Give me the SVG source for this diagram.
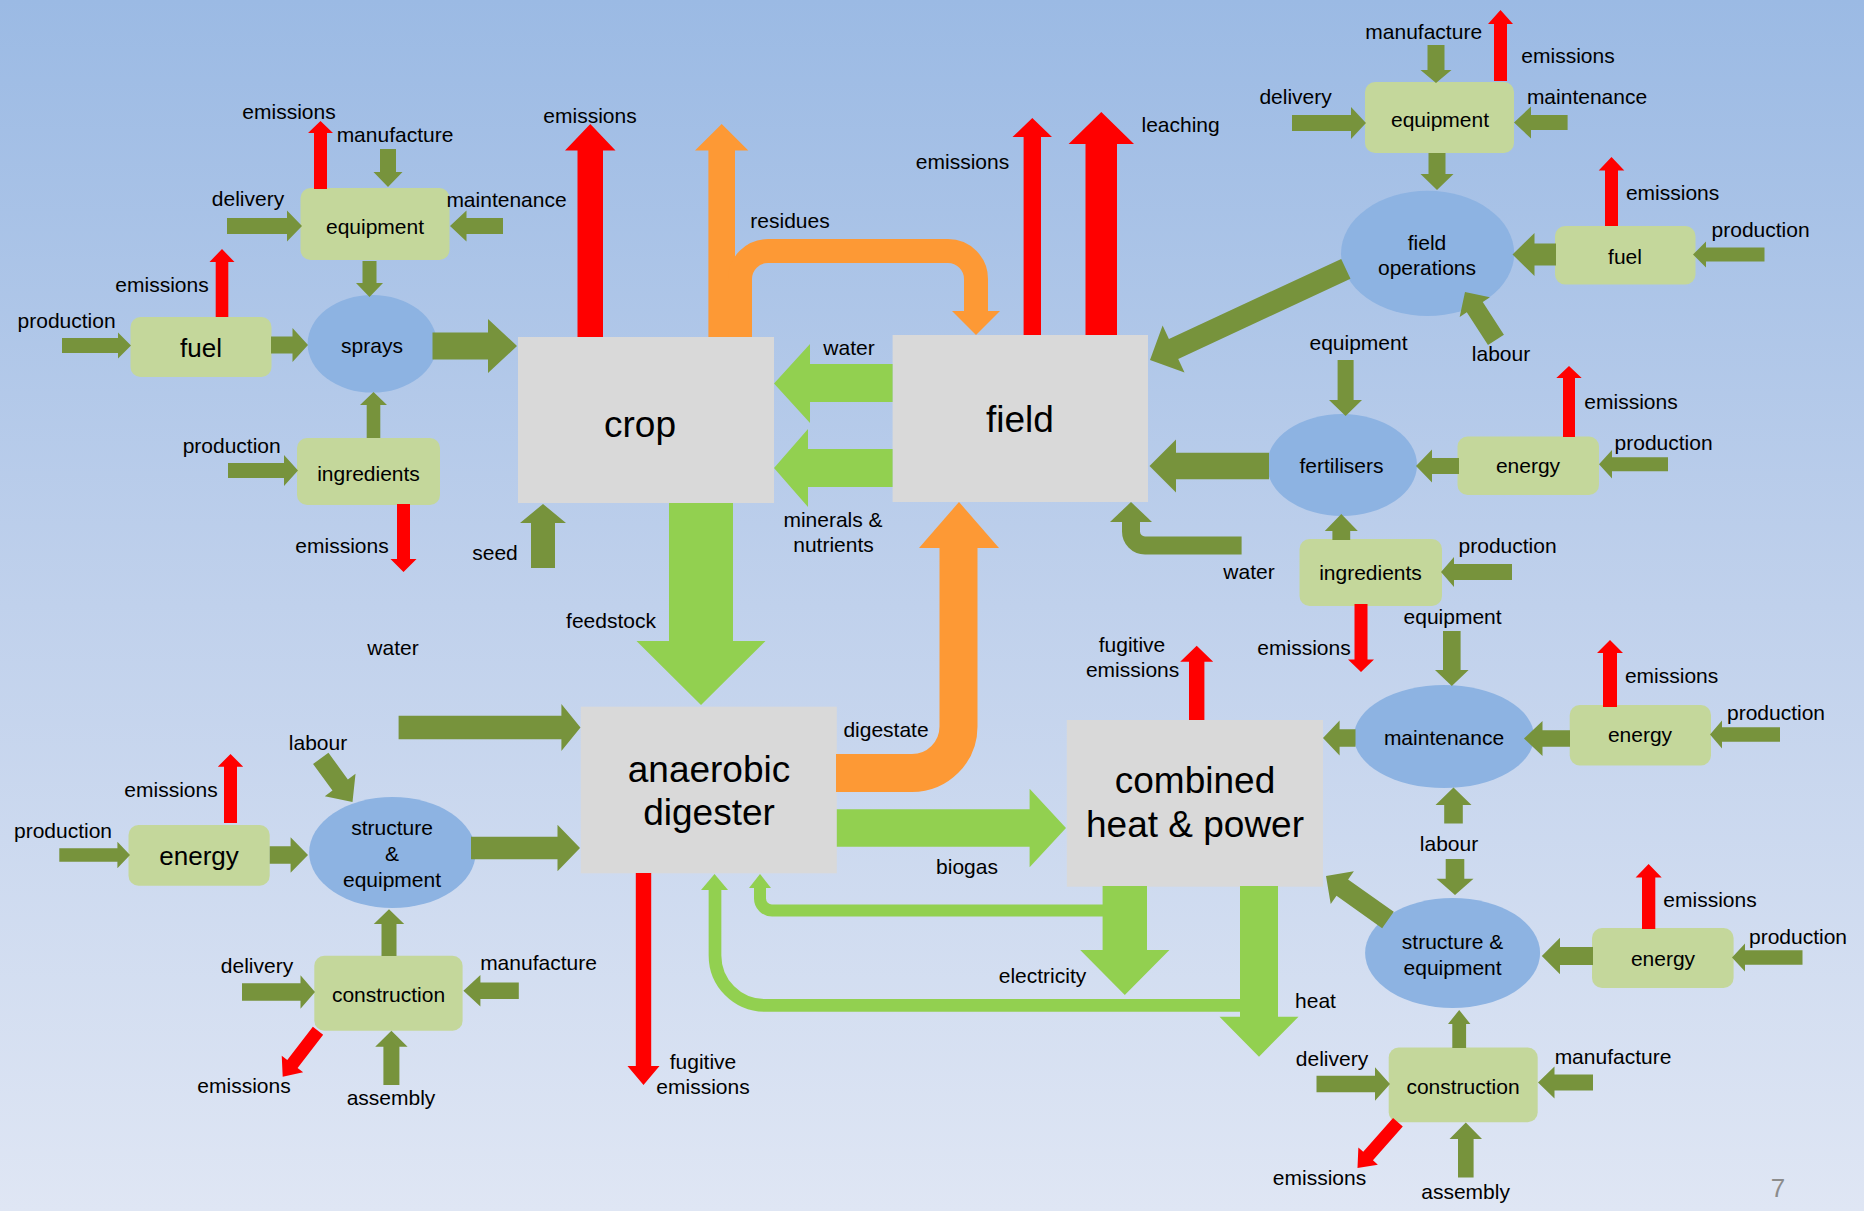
<svg xmlns="http://www.w3.org/2000/svg" width="1864" height="1211" viewBox="0 0 1864 1211">
  <defs>
    <linearGradient id="bg" x1="0" y1="0" x2="0" y2="1">
      <stop offset="0" stop-color="#9bbae4"/>
      <stop offset="0.5" stop-color="#c0d1ec"/>
      <stop offset="1" stop-color="#dfe6f4"/>
    </linearGradient>
    <style>
      .dg{fill:#77933c}
      .lg{fill:#92d050}
      .or{fill:#fd9935}
      .rd{fill:#ff0000}
      .dgs{fill:none;stroke:#77933c}
      .lgs{fill:none;stroke:#92d050}
      .ors{fill:none;stroke:#fd9935}
      .box{fill:#c4d79b}
      .ell{fill:#8db3e2}
      .pro{fill:#d9d9d9}
      text{font-family:"Liberation Sans",Arial,sans-serif;fill:#000;text-anchor:middle}
      .l{font-size:21px}
      .m{font-size:26px}
      .big{font-size:37px}
      .pg{font-size:26px;fill:#8c8c8c}
    </style>
  </defs>

  <rect x="0" y="0" width="1864" height="1211" fill="url(#bg)"/>

  <!-- nodes -->
  <g id="node-equipment-sprays">
    <rect class="box" x="300.5" y="188" width="149" height="72" rx="10"/>
    <text class="l" x="375" y="233.5">equipment</text>
  </g>
  <g id="node-fuel-sprays">
    <rect class="box" x="130.5" y="317" width="141" height="60" rx="10"/>
    <text class="m" x="201" y="357">fuel</text>
  </g>
  <g id="node-sprays">
    <ellipse class="ell" cx="372.3" cy="343.8" rx="64.7" ry="48.8"/>
    <text class="l" x="372" y="353">sprays</text>
  </g>
  <g id="node-ingredients-sprays">
    <rect class="box" x="297" y="438" width="143" height="67" rx="10"/>
    <text class="l" x="368.5" y="480.5">ingredients</text>
  </g>
  <g id="node-crop">
    <rect class="pro" x="518" y="337" width="256" height="166"/>
    <text class="big" x="640" y="437">crop</text>
  </g>
  <g id="node-field">
    <rect class="pro" x="892.6" y="335" width="255.4" height="167"/>
    <text class="big" x="1020" y="432">field</text>
  </g>
  <g id="node-equipment-fieldops">
    <rect class="box" x="1365" y="82" width="149" height="71" rx="10"/>
    <text class="l" x="1440" y="127">equipment</text>
  </g>
  <g id="node-field-operations">
    <ellipse class="ell" cx="1427.6" cy="253.4" rx="86.6" ry="62.6"/>
    <text class="l" x="1427" y="249.6">field</text>
    <text class="l" x="1427" y="274.5">operations</text>
  </g>
  <g id="node-fuel-fieldops">
    <rect class="box" x="1555" y="226" width="140.5" height="58.4" rx="10"/>
    <text class="l" x="1625" y="264">fuel</text>
  </g>
  <g id="node-fertilisers">
    <ellipse class="ell" cx="1342" cy="465" rx="75" ry="51"/>
    <text class="l" x="1341.5" y="473">fertilisers</text>
  </g>
  <g id="node-energy-fertilisers">
    <rect class="box" x="1457.5" y="436.5" width="141.5" height="58.5" rx="10"/>
    <text class="l" x="1528" y="473">energy</text>
  </g>
  <g id="node-ingredients-fertilisers">
    <rect class="box" x="1299.5" y="539" width="142.5" height="67" rx="10"/>
    <text class="l" x="1370.5" y="580">ingredients</text>
  </g>
  <g id="node-maintenance">
    <ellipse class="ell" cx="1444" cy="736.6" rx="90" ry="51.5"/>
    <text class="l" x="1444" y="744.7">maintenance</text>
  </g>
  <g id="node-energy-maintenance">
    <rect class="box" x="1569.7" y="705" width="141.3" height="60.4" rx="10"/>
    <text class="l" x="1640" y="742">energy</text>
  </g>
  <g id="node-structure-chp">
    <ellipse class="ell" cx="1452.6" cy="953" rx="87.5" ry="55"/>
    <text class="l" x="1452.6" y="949">structure &amp;</text>
    <text class="l" x="1452.6" y="975">equipment</text>
  </g>
  <g id="node-energy-structure-chp">
    <rect class="box" x="1592" y="928" width="141.6" height="60" rx="10"/>
    <text class="l" x="1663" y="966">energy</text>
  </g>
  <g id="node-construction-chp">
    <rect class="box" x="1388.7" y="1047.6" width="149" height="74.7" rx="10"/>
    <text class="l" x="1463" y="1093.5">construction</text>
  </g>
  <g id="node-chp">
    <rect class="pro" x="1066.8" y="720" width="256.2" height="166.7"/>
    <text class="big" x="1195" y="793.3">combined</text>
    <text class="big" x="1195" y="837.3">heat &amp; power</text>
  </g>
  <g id="node-digester">
    <rect class="pro" x="580.8" y="706.7" width="256" height="166.6"/>
    <text class="big" x="709" y="781.7">anaerobic</text>
    <text class="big" x="709" y="825">digester</text>
  </g>
  <g id="node-energy-structure-ad">
    <rect class="box" x="128.5" y="825" width="141.2" height="60.7" rx="10"/>
    <text class="m" x="199" y="865">energy</text>
  </g>
  <g id="node-structure-ad">
    <ellipse class="ell" cx="392.4" cy="852.5" rx="83.3" ry="55.5"/>
    <text class="l" x="392" y="835">structure</text>
    <text class="l" x="392" y="860.7">&amp;</text>
    <text class="l" x="392" y="886.7">equipment</text>
  </g>
  <g id="node-construction-ad">
    <rect class="box" x="314.3" y="955.7" width="148.3" height="75" rx="10"/>
    <text class="l" x="388.5" y="1001.5">construction</text>
  </g>

  <!-- connectors -->
  <g id="connectors">
    <!-- top-left cluster -->
    <polygon class="rd" points="314,189 314,133 308,133 320.5,121 333,133 327,133 327,189"/>
    <polygon class="dg" points="380,149 396,149 396,172 402.5,172 388,187 373.5,172 380,172"/>
    <polygon class="dg" points="227,218 287,218 287,210.5 302,226 287,241.5 287,234 227,234"/>
    <polygon class="dg" points="503,218 466.5,218 466.5,210.5 450,226 466.5,241.5 466.5,234 503,234"/>
    <polygon class="dg" points="362.5,261 376.5,261 376.5,283 383,283 369.5,297 356,283 362.5,283"/>
    <polygon class="dg" points="432.5,332.5 488,332.5 488,319 517,346 488,373 488,359.5 432.5,359.5"/>
    <polygon class="dg" points="271,336.5 292.5,336.5 292.5,328 308,345 292.5,362 292.5,353.5 271,353.5"/>
    <polygon class="dg" points="62,338 118,338 118,332.5 131,345.5 118,358.5 118,353 62,353"/>
    <polygon class="rd" points="215.7,317 215.7,262 209.5,262 222,249 234.5,262 228.3,262 228.3,317"/>
    <polygon class="dg" points="366.7,438 366.7,405 360,405 373.5,392 387,405 380.3,405 380.3,438"/>
    <polygon class="dg" points="228,463 284,463 284,455 298,470.5 284,486 284,478 228,478"/>
    <polygon class="rd" points="397,504 410,504 410,559 416.5,559 403.5,572 390.5,559 397,559"/>
    <polygon class="dg" points="531,568 531,523 520,523 543,504 566,523 555,523 555,568"/>

    <!-- crop and field -->
    <polygon class="rd" points="577.5,337 577.5,150.5 565,150.5 590.3,124 615.5,150.5 603,150.5 603,337"/>
    <polygon class="or" points="708.4,337 708.4,150.5 695,150.5 721.7,124 748.3,150.5 735,150.5 735,337"/>
    <path class="ors" stroke-width="24" d="M740,337 V279 A28,28 0 0 1 768,251 H948 A28,28 0 0 1 976,279 V312"/>
    <polygon class="or" points="952,311 1000,311 976,335"/>
    <polygon class="rd" points="1023.6,335 1023.6,137 1012.5,137 1032.3,118 1052,137 1041,137 1041,335"/>
    <polygon class="rd" points="1085.5,335 1085.5,144 1068.6,144 1101.3,112 1134,144 1117,144 1117,335"/>
    <polygon class="lg" points="892.6,364 810,364 810,344 774,383.5 810,423 810,402 892.6,402"/>
    <polygon class="lg" points="892.6,449 808,449 808,429 774,468 808,507 808,487 892.6,487"/>
    <path class="ors" stroke-width="38" d="M836,773 H912 A46.5,46.5 0 0 0 958.5,726.5 V547"/>
    <polygon class="or" points="919,548 999,548 959,502"/>
    <path class="dgs" stroke-width="18" d="M1241.6,545.4 H1145 A14,14 0 0 1 1131,531.4 V520"/>
    <polygon class="dg" points="1110,522 1152,522 1131,502"/>
    <polygon class="dg" transform="translate(1150,360) rotate(155.05)" points="-216,-11 -26,-11 -26,-26 0,0 -26,26 -26,11 -216,11"/>

    <!-- top-right cluster -->
    <polygon class="dg" points="1427.5,45 1444.5,45 1444.5,70 1451.5,70 1436,83 1420.5,70 1427.5,70"/>
    <polygon class="rd" points="1494,81 1494,24 1488,24 1500.5,10 1513,24 1507,24 1507,81"/>
    <polygon class="dg" points="1292,115 1351,115 1351,107 1366,123 1351,139 1351,131 1292,131"/>
    <polygon class="dg" points="1567.6,115 1531,115 1531,106.5 1514,122.5 1531,138.5 1531,130 1567.6,130"/>
    <polygon class="dg" points="1428.5,153 1445.5,153 1445.5,174 1453.5,174 1437,190 1420.5,174 1428.5,174"/>
    <polygon class="dg" points="1556,243.5 1534.5,243.5 1534.5,233 1512.5,254.5 1534.5,276 1534.5,265.5 1556,265.5"/>
    <polygon class="rd" points="1605,226 1605,170.5 1598.7,170.5 1611.5,157 1624.3,170.5 1618,170.5 1618,226"/>
    <polygon class="dg" points="1764.5,247.6 1706,247.6 1706,241.6 1693,254.6 1706,267.6 1706,261.6 1764.5,261.6"/>
    <polygon class="dg" transform="translate(1465,292) rotate(237.1)" points="-57,-9.5 -18,-9.5 -18,-18 0,0 -18,18 -18,9.5 -57,9.5"/>

    <!-- fertilisers cluster -->
    <polygon class="dg" points="1337.6,360 1353.6,360 1353.6,400 1362,400 1345.6,416 1329,400 1337.6,400"/>
    <polygon class="dg" points="1269,452.7 1176,452.7 1176,439.5 1149.5,466 1176,492.5 1176,479.3 1269,479.3"/>
    <polygon class="dg" points="1459,458 1432,458 1432,449.4 1416,466 1432,482.6 1432,474 1459,474"/>
    <polygon class="rd" points="1563,437 1563,378 1556.3,378 1569,366 1581.7,378 1575,378 1575,437"/>
    <polygon class="dg" points="1668,457.2 1612,457.2 1612,450 1599,464.2 1612,478.5 1612,471.2 1668,471.2"/>
    <polygon class="dg" points="1332.4,540 1332.4,531 1324.8,531 1341.3,514 1357.8,531 1350.2,531 1350.2,540"/>
    <polygon class="dg" points="1512,564 1454,564 1454,557 1441,572 1454,587 1454,580 1512,580"/>
    <polygon class="rd" points="1354.5,604 1367.5,604 1367.5,659.6 1374,659.6 1361,672 1348,659.6 1354.5,659.6"/>

    <!-- maintenance and structure cluster -->
    <polygon class="dg" points="1443,631 1460.6,631 1460.6,670 1468.6,670 1451.8,686 1435,670 1443,670"/>
    <polygon class="dg" points="1355.5,729.2 1339.6,729.2 1339.6,720.5 1323,738 1339.6,755.5 1339.6,746.8 1355.5,746.8"/>
    <polygon class="dg" points="1570,730.2 1542.5,730.2 1542.5,721 1524,738.5 1542.5,756 1542.5,746.8 1570,746.8"/>
    <polygon class="rd" points="1603,707 1603,653 1597,653 1610,640 1623,653 1617,653 1617,707"/>
    <polygon class="dg" points="1780,727.2 1722,727.2 1722,720.5 1710,734.5 1722,748.5 1722,741.8 1780,741.8"/>
    <polygon class="dg" points="1444.2,823.5 1444.2,805 1435.5,805 1453.5,787.4 1471.5,805 1462.8,805 1462.8,823.5"/>
    <polygon class="dg" points="1445.7,859 1464.3,859 1464.3,878.7 1473.5,878.7 1455,895 1436.5,878.7 1445.7,878.7"/>
    <polygon class="dg" transform="translate(1326,876) rotate(215.4)" points="-76,-10 -20,-10 -20,-20 0,0 -20,20 -20,10 -76,10"/>
    <polygon class="dg" points="1593,947 1560,947 1560,937.8 1541.8,956 1560,974.2 1560,965 1593,965"/>
    <polygon class="rd" points="1642,929 1642,877.5 1635.6,877.5 1648.6,864 1661.7,877.5 1655.3,877.5 1655.3,929"/>
    <polygon class="dg" points="1802.5,950.2 1745,950.2 1745,943.5 1732,957.5 1745,971.5 1745,964.8 1802.5,964.8"/>
    <polygon class="dg" points="1452.3,1048 1452.3,1024 1448,1024 1459.2,1010 1470.4,1024 1466.1,1024 1466.1,1048"/>
    <polygon class="dg" points="1316.5,1075.7 1375,1075.7 1375,1067.2 1390,1084 1375,1100.8 1375,1092.3 1316.5,1092.3"/>
    <polygon class="dg" points="1593,1074.6 1554.5,1074.6 1554.5,1066.6 1538,1082.5 1554.5,1098.4 1554.5,1090.4 1593,1090.4"/>
    <polygon class="dg" points="1458,1177.5 1458,1139 1449.5,1139 1465.8,1122.5 1482,1139 1473.6,1139 1473.6,1177.5"/>
    <polygon class="rd" transform="translate(1357.5,1168) rotate(131.5)" points="-61,-6.5 -16,-6.5 -16,-13 0,0 -16,13 -16,6.5 -61,6.5"/>

    <!-- bottom-left cluster -->
    <polygon class="dg" points="398.6,715.7 561.4,715.7 561.4,704 580.5,727.5 561.4,751 561.4,739.3 398.6,739.3"/>
    <polygon class="dg" points="471,836.7 557.5,836.7 557.5,824.7 580,848 557.5,871.3 557.5,859.3 471,859.3"/>
    <polygon class="dg" transform="translate(352.5,802) rotate(54)" points="-54,-9.5 -21,-9.5 -21,-19 0,0 -21,19 -21,9.5 -54,9.5"/>
    <polygon class="dg" points="269.7,846.3 290.6,846.3 290.6,837.3 308,855 290.6,872.7 290.6,863.7 269.7,863.7"/>
    <polygon class="dg" points="59.3,848.3 117.4,848.3 117.4,841.7 130,855 117.4,868.3 117.4,861.7 59.3,861.7"/>
    <polygon class="rd" points="224,823 224,766.7 217.8,766.7 230.5,754 243.2,766.7 237,766.7 237,823"/>
    <polygon class="dg" points="381.5,956 381.5,924 373.8,924 389,909.3 404.2,924 396.5,924 396.5,956"/>
    <polygon class="dg" points="242,983.3 300.5,983.3 300.5,975.3 315,992 300.5,1008.7 300.5,1000.7 242,1000.7"/>
    <polygon class="dg" points="518.8,982.6 480.4,982.6 480.4,975 463.4,990.8 480.4,1006.6 480.4,999 518.8,999"/>
    <polygon class="dg" points="383.4,1085 383.4,1046.7 375.2,1046.7 391.4,1030.7 407.6,1046.7 399.4,1046.7 399.4,1085"/>
    <polygon class="rd" transform="translate(282.7,1076.7) rotate(127.5)" points="-58,-6.5 -16,-6.5 -16,-13.5 0,0 -16,13.5 -16,6.5 -58,6.5"/>

    <!-- digester and CHP flows -->
    <polygon class="lg" points="669,503 733,503 733,641 765.5,641 701,705 636.5,641 669,641"/>
    <polygon class="lg" points="836.8,809.2 1029.6,809.2 1029.6,788.8 1066,828 1029.6,867.2 1029.6,846.8 836.8,846.8"/>
    <polygon class="rd" points="635.8,873 651.2,873 651.2,1066 659.5,1066 643.5,1085 627.5,1066 635.8,1066"/>
    <polygon class="rd" points="1189,720 1189,661.7 1180.2,661.7 1196.7,645.7 1213.2,661.7 1204.4,661.7 1204.4,720"/>
    <path class="lgs" stroke-width="12" d="M1104,910.5 H772 A12,12 0 0 1 760,898.5 V887"/>
    <polygon class="lg" points="749,888 771,888 760,874"/>
    <polygon class="lg" points="1102.6,886 1147,886 1147,950 1169.4,950 1124.8,995 1080.2,950 1102.6,950"/>
    <path class="lgs" stroke-width="12.7" d="M1241,1005.4 H765 A50,50 0 0 1 715,955.4 V889"/>
    <polygon class="lg" points="701,890 728,890 714.5,874"/>
    <polygon class="lg" points="1240,886 1278,886 1278,1016.7 1298.5,1016.7 1259,1056.7 1219.5,1016.7 1240,1016.7"/>
  </g>

  <!-- flow labels -->
  <g id="labels">
    <text class="l" x="289" y="119">emissions</text>
    <text class="l" x="395" y="142">manufacture</text>
    <text class="l" x="248" y="206">delivery</text>
    <text class="l" x="506.5" y="207">maintenance</text>
    <text class="l" x="162" y="292">emissions</text>
    <text class="l" x="66.6" y="328.3">production</text>
    <text class="l" x="231.7" y="453.3">production</text>
    <text class="l" x="342" y="553">emissions</text>
    <text class="l" x="495" y="560">seed</text>

    <text class="l" x="590" y="122.7">emissions</text>
    <text class="l" x="790" y="228">residues</text>
    <text class="l" x="962.5" y="169">emissions</text>
    <text class="l" x="1180.6" y="131.7">leaching</text>
    <text class="l" x="849" y="355">water</text>
    <text class="l" x="833" y="527">minerals &amp;</text>
    <text class="l" x="833.5" y="551.7">nutrients</text>
    <text class="l" x="1249" y="578.7">water</text>

    <text class="l" x="1423.7" y="38.7">manufacture</text>
    <text class="l" x="1568" y="63">emissions</text>
    <text class="l" x="1295.6" y="103.5">delivery</text>
    <text class="l" x="1587" y="103.5">maintenance</text>
    <text class="l" x="1672.6" y="199.5">emissions</text>
    <text class="l" x="1760.6" y="237">production</text>
    <text class="l" x="1501" y="361">labour</text>
    <text class="l" x="1358.5" y="349.6">equipment</text>
    <text class="l" x="1631" y="409">emissions</text>
    <text class="l" x="1663.6" y="449.5">production</text>
    <text class="l" x="1507.6" y="553">production</text>
    <text class="l" x="1304" y="655">emissions</text>

    <text class="l" x="1452.6" y="624">equipment</text>
    <text class="l" x="1671.6" y="683">emissions</text>
    <text class="l" x="1776" y="720">production</text>
    <text class="l" x="1449" y="850.5">labour</text>
    <text class="l" x="1710" y="906.5">emissions</text>
    <text class="l" x="1798" y="944">production</text>
    <text class="l" x="1315.5" y="1008">heat</text>
    <text class="l" x="1332" y="1065.5">delivery</text>
    <text class="l" x="1613" y="1064">manufacture</text>
    <text class="l" x="1319.5" y="1184.6">emissions</text>
    <text class="l" x="1465.6" y="1199">assembly</text>

    <text class="l" x="611" y="628.3">feedstock</text>
    <text class="l" x="886" y="736.7">digestate</text>
    <text class="l" x="967" y="874.3">biogas</text>
    <text class="l" x="1132" y="651.7">fugitive</text>
    <text class="l" x="1132.6" y="676.7">emissions</text>
    <text class="l" x="1042.5" y="983.3">electricity</text>
    <text class="l" x="703" y="1069">fugitive</text>
    <text class="l" x="703" y="1094">emissions</text>

    <text class="l" x="393" y="655">water</text>
    <text class="l" x="318" y="750">labour</text>
    <text class="l" x="171" y="796.7">emissions</text>
    <text class="l" x="63" y="838">production</text>
    <text class="l" x="257" y="973.3">delivery</text>
    <text class="l" x="538.5" y="970">manufacture</text>
    <text class="l" x="244" y="1093.3">emissions</text>
    <text class="l" x="391" y="1105">assembly</text>
  </g>

  <text class="pg" x="1778" y="1197">7</text>
</svg>
